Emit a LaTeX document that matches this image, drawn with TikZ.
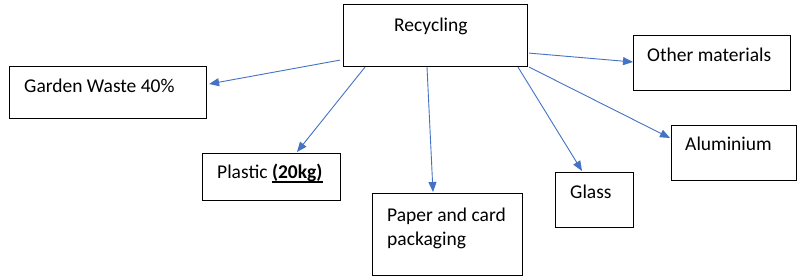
\documentclass[tikz,border=0pt]{standalone}
\usepackage{fontspec}
\setmainfont{Carlito}
\usetikzlibrary{arrows.meta,calc}
\definecolor{arrowblue}{HTML}{4472C4}
\newcommand{\myul}[1]{\setbox0\hbox{#1}\rlap{\rule[-3.6pt]{\wd0}{1.2pt}}\box0}
\begin{document}
\begin{tikzpicture}[x=1pt,y=-1pt,
  box/.style={draw=black, line width=1.1pt, inner sep=0pt, anchor=north west},
  lbl/.style={inner sep=0pt, anchor=base west, font=\fontsize{19.5}{24}\selectfont},
  conn/.style={draw=arrowblue, line width=0.9pt, -{Triangle[length=10pt,width=8pt]}}]
\useasboundingbox[fill=white] (0,0) rectangle (800,280);
% boxes
\node[box, minimum width=184pt, minimum height=62pt] (rec) at (343,4) {};
\node[box, minimum width=197pt, minimum height=52pt] (gw) at (9,66) {};
\node[box, minimum width=138pt, minimum height=47pt] (pl) at (202,153) {};
\node[box, minimum width=150pt, minimum height=82pt] (pa) at (372,193) {};
\node[box, minimum width=78pt, minimum height=55pt] (gl) at (555,172) {};
\node[box, minimum width=125pt, minimum height=55pt] (al) at (671,125) {};
\node[box, minimum width=157pt, minimum height=55pt] (ot) at (633,35) {};
% labels
\node[lbl] (recT) at (394,32) {Recycling};
\node[lbl] (gwT) at (24,93) {Garden Waste 40\%};
\node[lbl] (plT) at (217,179) {Plastic \myul{\textbf{(20kg)}}};
\node[lbl] (paT1) at (387,222) {Paper and card};
\node[lbl] (paT2) at (387,246) {packaging};
\node[lbl] (glT) at (570,199) {Glass};
\node[lbl] (alT) at (685,151) {Aluminium};
\node[lbl] (otT) at (647,62) {Other materials};
% connectors
\draw[conn] ($(rec.south west)+(-3,-7)$) -- ($(gw.north east)+(2,18)$);
\draw[conn] ($(rec.south west)+(22,0)$) -- ($(pl.north west)+(95,-1)$);
\draw[conn] ($(rec.south west)+(84,0)$) -- ($(pa.north west)+(61,-1)$);
\draw[conn] ($(rec.south west)+(175,0)$) -- ($(gl.north west)+(27,-1)$);
\draw[conn] ($(rec.south east)+(1,0)$) -- ($(al.north west)+(-1,13)$);
\draw[conn] ($(rec.south east)+(1,-14)$) -- ($(ot.north west)+(0,27)$);
\end{tikzpicture}
\end{document}
